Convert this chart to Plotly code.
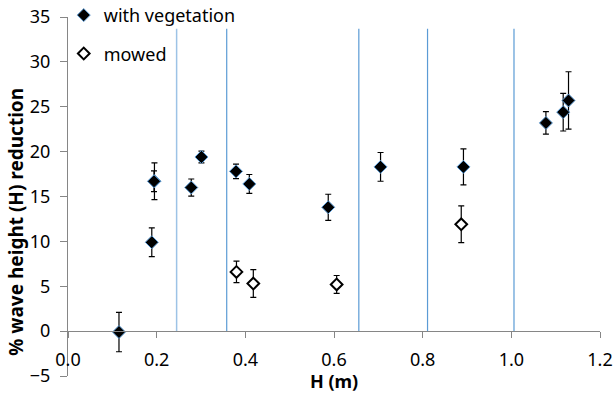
import plotly.graph_objects as go

# with vegetation
veg_x = [0.115, 0.189, 0.195, 0.194, 0.278, 0.301, 0.379, 0.409, 0.587, 0.705, 0.892, 1.078, 1.117, 1.129]
veg_y = [-0.1, 9.9, 16.7, 16.7, 16.0, 19.4, 17.8, 16.4, 13.8, 18.3, 18.3, 23.2, 24.4, 25.7]
veg_err = [2.2, 1.6, 2.05, 1.15, 0.95, 0.65, 0.8, 1.05, 1.45, 1.6, 2.0, 1.25, 2.1, 3.2]

# mowed
mow_x = [0.380, 0.418, 0.606, 0.887]
mow_y = [6.6, 5.3, 5.2, 11.9]
mow_err = [1.2, 1.55, 1.0, 2.05]

# vertical divider lines
vline_x = [0.245, 0.358, 0.656, 0.811, 1.006]
vline_top = 33.7

x_ticks = [0.0, 0.2, 0.4, 0.6, 0.8, 1.0, 1.2]
x_ticktext = ["0.0", "0.2", "0.4", "0.6", "0.8", "1.0", "1.2"]
y_ticks = [-5, 0, 5, 10, 15, 20, 25, 30, 35]

FONT = "Noto Sans"

fig = go.Figure()

fig.add_trace(go.Scatter(
    x=veg_x, y=veg_y, mode="markers", name="with vegetation",
    legendgroup="a",
    marker=dict(symbol="diamond", size=10, color="black",
                line=dict(color="#5B9BD5", width=1)),
    error_y=dict(type="data", array=veg_err, color="black", thickness=1.2, width=3),
))
fig.add_trace(go.Scatter(
    x=mow_x, y=mow_y, mode="markers", name="mowed",
    legendgroup="b",
    marker=dict(symbol="diamond", size=9, color="white",
                line=dict(color="black", width=2)),
    error_y=dict(type="data", array=mow_err, color="black", thickness=1.2, width=3),
))

for i, xv in enumerate(vline_x):
    fig.add_shape(type="line", x0=xv, x1=xv, y0=0, y1=vline_top,
                  xref="x", yref="y",
                  line=dict(color="#9DC3E6" if i == 0 else "#5B9BD5", width=1.5 if i == 0 else 1.2),
                  layer="below")

fig.add_annotation(text="<b>H (m)</b>", xref="paper", yref="paper",
                   x=0.5, y=-0.014, xanchor="center", yanchor="middle",
                   showarrow=False, font=dict(size=18))
fig.add_annotation(text="<b>% wave height (H) reduction</b>", xref="paper", yref="paper",
                   x=-0.098, y=0.429, xanchor="center", yanchor="middle",
                   textangle=-90, showarrow=False, font=dict(size=19))

fig.update_layout(
    width=616, height=394,
    margin=dict(l=68, r=16, t=17, b=18, autoexpand=False),
    plot_bgcolor="white", paper_bgcolor="white",
    font=dict(family=FONT, size=18, color="black"),
    showlegend=True,
    legend=dict(x=-0.008, y=1.056, xanchor="left", yanchor="top",
                bgcolor="rgba(0,0,0,0)", tracegroupgap=12,
                font=dict(size=18), itemwidth=30),
    xaxis=dict(range=[0, 1.2], tickvals=x_ticks, ticktext=x_ticktext,
               showgrid=False, zeroline=False, showline=True,
               linecolor="#868686", linewidth=1,
               ticks="outside", ticklen=6, tickcolor="#868686",
               anchor="free", position=0.125, ticklabelstandoff=6,
               ticklabeloverflow="allow"),
    yaxis=dict(range=[-5, 35], tickvals=y_ticks,
               showgrid=False, zeroline=False, showline=True,
               linecolor="#868686", linewidth=1,
               ticks="outside", ticklen=7, tickcolor="#868686",
               ticklabelstandoff=6, ticklabeloverflow="allow"),
)

fig.write_html("out.html", config={"displayModeBar": False},
               post_script="document.body.style.margin='0';")
